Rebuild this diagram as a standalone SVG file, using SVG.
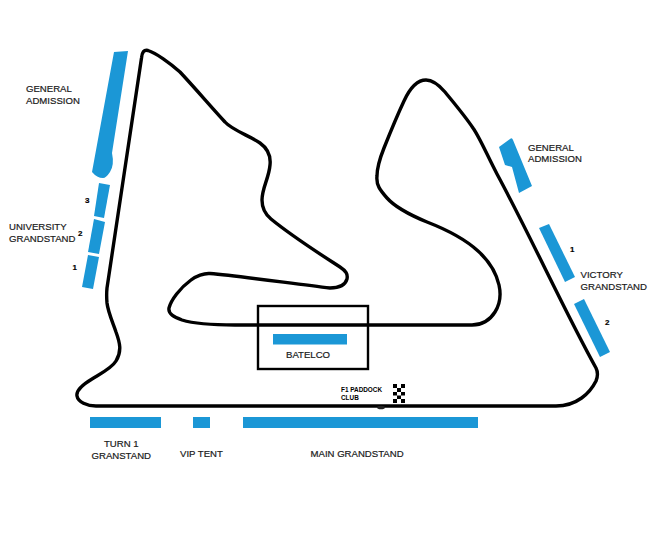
<svg xmlns="http://www.w3.org/2000/svg" width="650" height="543" viewBox="0 0 650 543">
<style>
.track{fill:none;stroke:#000;stroke-width:3.4;stroke-linejoin:round;stroke-linecap:round}
.stand{fill:#1b97d6}
text{font-family:"Liberation Sans",Arial,sans-serif;font-size:9.6px;fill:#1a1a1a;stroke:#1a1a1a;stroke-width:.2}
.num{font-size:8px;font-weight:bold;fill:#000;stroke:#000}
.small{font-size:6.4px;font-weight:bold;fill:#000;stroke:none}
</style>
<rect width="650" height="543" fill="#fff"/>
<g id="connectors">
<path id="track" class="track" d="M107 288L141.500 58C142 52 144 49.500 148 50.500C156 53 170 63 180 72C195 88 212 108 225 122C232 130 250 136 260 143C267 148 271 156 270 165C269 178 262 188 262 200C262 208 265 214 271 219C293 237 320 254 340 267C346 271 348 274 347 279C345 286 338 288 330 288C295 284 240 276 210 273.500C204 273 196 276 191 280C180 288 171 300 169 308C168 314 174 317 182 320C195 324 215 325 235 325L472 325C482 325 490 320 495 312C500 304 501 294 499 285C496 272 488 260 478 251C465 239 445 229 427 222C410 215 395 207 387 198C380 190 376 185 377 176C377 168 380 158 384 148C390 133 396 118 404 101C410 88 417 80 426 80C433 80 439 85 445 92C454 103 465 116 473 128C480 138 487 155 497 174C530 235 565 312 596 368C598 372 598 376 596 381C590 393 577 406 556 406L96 406C87 406 78 402 77 396C76 391 82 385 92 379C100 374 112 368 116 361C122 351 120 343 116 332C113 323 108 312 107 303C106.500 297 106.500 293 107 288Z"/>
<ellipse cx="381" cy="407.500" rx="4" ry="1.800" fill="#222"/>
</g>
<g id="general-admission-left">
<path class="stand" d="M114 52L128 51L112 153Q114.500 165 110 172Q106 178 103 178Q97 178 92 172Z"/>
<text x="26" y="92">GENERAL</text><text x="26" y="104">ADMISSION</text>
</g>
<g id="university-grandstand">
<polygon class="stand" points="99,183 110,185 104,218 94,216"/>
<polygon class="stand" points="94,219 105,222 99,254 88,252"/>
<polygon class="stand" points="88,255 99,257 93,289 82,287"/>
<text x="9" y="230">UNIVERSITY</text><text x="9" y="242">GRANDSTAND</text>
<text class="num" x="85" y="203">3</text><text class="num" x="78" y="236">2</text><text class="num" x="72.500" y="269.500">1</text>
</g>
<g id="general-admission-right">
<path class="stand" d="M499 147L510 139Q512 137 513 140L532 186L519 193L512 167L505 165Z"/>
<text x="528" y="151">GENERAL</text><text x="528" y="162">ADMISSION</text>
</g>
<g id="victory-grandstand">
<polygon class="stand" points="539,228 549,224 575,277 565,282"/>
<polygon class="stand" points="574,304 584,299 610,352 600,357"/>
<text class="num" x="570" y="252">1</text><text class="num" x="605" y="325">2</text>
<text x="580.500" y="278">VICTORY</text><text x="580.500" y="289.500">GRANDSTAND</text>
</g>
<g id="batelco">
<rect x="258" y="306" width="110" height="63" fill="none" stroke="#000" stroke-width="2.4"/>
<rect class="stand" x="273" y="334" width="74" height="10.500"/>
<text x="286" y="358">BATELCO</text>
</g>
<g id="paddock-club">
<text class="small" x="341" y="392">F1 PADDOCK</text><text class="small" x="341" y="399.500">CLUB</text>
<path fill="#000" d="M393 384h4v4h-4zM401 384h4v4h-4zM397 388h4v4h-4zM393 392h4v3.500h-4zM401 392h4v3.500h-4zM397 395.500h4v3.500h-4zM393 399h4v4h-4zM401 399h4v4h-4z"/>
</g>
<g id="turn-1-granstand">
<rect class="stand" x="90" y="417" width="71" height="11"/>
<text x="104" y="447">TURN 1</text><text x="91.500" y="458.500">GRANSTAND</text>
</g>
<g id="vip-tent">
<rect class="stand" x="193" y="417" width="17" height="11"/>
<text x="180" y="456.500">VIP TENT</text>
</g>
<g id="main-grandstand">
<rect class="stand" x="243" y="417" width="235" height="11"/>
<text x="310.500" y="456.500">MAIN GRANDSTAND</text>
</g>
</svg>
